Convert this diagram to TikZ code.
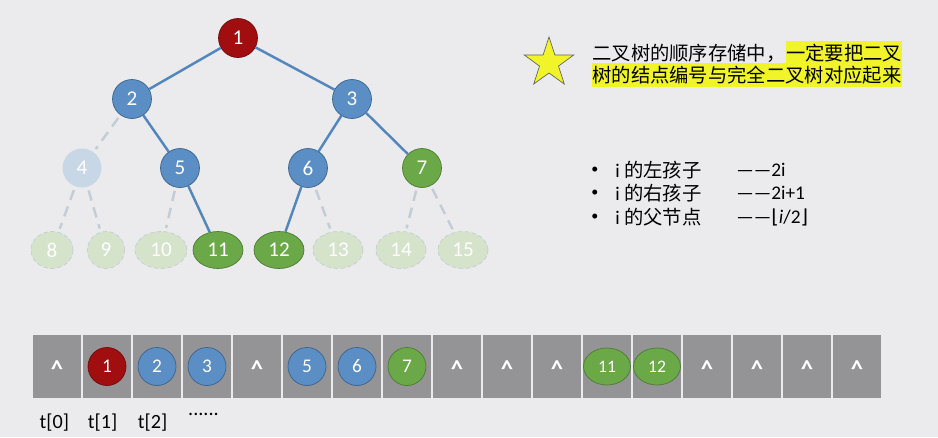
\documentclass[tikz,border=0pt]{standalone}
\usepackage{fontspec}
\setmainfont{Carlito}
\newfontfamily\cjk{Noto Sans CJK SC}
\newfontfamily\symbolfont{DejaVu Sans}
\usetikzlibrary{positioning,shapes.geometric}
\definecolor{bggray}{RGB}{235,235,237}
\definecolor{rootred}{RGB}{160,14,16}
\definecolor{treeblue}{RGB}{91,142,196}
\definecolor{blueedge}{RGB}{58,98,138}
\definecolor{linkblue}{RGB}{84,134,190}
\definecolor{leafgreen}{RGB}{106,168,72}
\definecolor{greenedge}{RGB}{78,122,52}
\definecolor{paleblue}{RGB}{200,215,230}
\definecolor{palegreen}{RGB}{213,227,203}
\definecolor{paleline}{RGB}{195,205,214}
\definecolor{cellgray}{RGB}{148,147,150}
\definecolor{marker}{RGB}{240,244,40}

\begin{document}
\begin{tikzpicture}[x=0.02cm, y=-0.02cm, every node/.style={font=\fontsize{12}{14}\selectfont},
  bluenode/.style={circle, draw=blueedge, fill=treeblue, text=white, minimum size=0.78cm, inner sep=0pt},
  rootnode/.style={bluenode, draw=rootred!70!black, fill=rootred},
  greennode/.style={bluenode, draw=greenedge, fill=leafgreen},
  greenleaf/.style={ellipse, draw=greenedge, fill=leafgreen, text=white, minimum width=1cm, minimum height=0.74cm, inner sep=0pt},
  paletop/.style={circle, fill=paleblue, text=white, minimum size=0.78cm, inner sep=0pt},
  paleleaf/.style={ellipse, draw=paleline, dash pattern=on 2.5pt off 1.5pt, fill=palegreen, text=white, minimum width=1cm, minimum height=0.74cm, inner sep=0pt},
  link/.style={draw=linkblue, line width=1.4pt},
  ghostlink/.style={draw=paleline, line width=1.4pt, dash pattern=on 6pt off 4pt, shorten <=2pt, shorten >=2pt},
  cellbox/.style={rectangle, fill=cellgray, minimum width=0.98cm, minimum height=1.26cm, inner sep=0pt},
  hat/.style={text=white, font=\fontsize{14}{14}\selectfont\bfseries, anchor=base, yshift=-6pt},
  idx/.style={font=\fontsize{11.5}{13}\selectfont, inner sep=0pt},
  rule/.style={anchor=west, inner sep=0pt, font=\fontsize{11}{13}\selectfont}]
\fill[bggray] (0,0) rectangle (938,437);
% ---- tree
\node[rootnode] (n1) at (238,38) {1};
\node[bluenode] (n2) at (132,99) {2};
\node[bluenode] (n3) at (352,99) {3};
\node[paletop] (n4) at (82,168) {4};
\node[bluenode] (n5) at (180,168) {5};
\node[bluenode] (n6) at (308,168) {6};
\node[greennode] (n7) at (422,168) {7};
\node[paleleaf, minimum width=0.84cm] (n8) at (52,250) {8};
\node[paleleaf, minimum width=0.74cm] (n9) at (106,250) {9};
\node[paleleaf, minimum width=1.04cm] (n10) at (161,250) {10};
\node[greenleaf] (n11) at (218,250) {11};
\node[greenleaf] (n12) at (279,250) {12};
\node[paleleaf] (n13) at (338,250) {13};
\node[paleleaf] (n14) at (401,250) {14};
\node[paleleaf] (n15) at (463,250) {15};
\draw[link] (n1) -- (n2);
\draw[link] (n1) -- (n3);
\draw[link] (n2) -- (n5);
\draw[link] (n3) -- (n6);
\draw[link] (n3) -- (n7);
\draw[link] (n5) -- (n11);
\draw[link] (n6) -- (n12);
\draw[ghostlink] (n2) -- (n4);
\draw[ghostlink] (n4) -- (n8);
\draw[ghostlink] (n4) -- (n9);
\draw[ghostlink] (n5) -- (n10);
\draw[ghostlink] (n6) -- (n13);
\draw[ghostlink] (n7) -- (n14);
\draw[ghostlink] (n7) -- (n15);
% ---- note with star
\node[star, star points=5, star point ratio=2.6, fill=marker, draw=gray!80!black, minimum size=1.04cm, inner sep=0pt] (star) at (549,63) {};
\node[anchor=west, inner sep=0pt, font=\fontsize{11}{13}\selectfont\cjk] (note1) at (592,53) {二叉树的顺序存储中，};
\node[right=0pt of note1, inner xsep=0pt, inner ysep=1.5pt, fill=marker, font=\fontsize{11}{13}\selectfont\cjk] (note1b) {一定要把二叉};
\node[anchor=west, inner xsep=0pt, inner ysep=1.5pt, fill=marker, font=\fontsize{11}{13}\selectfont\cjk] (note2) at (592,75) {树的结点编号与完全二叉树对应起来};
% ---- index rules
\node[rule, font=\fontsize{8}{10}\selectfont] (b1) at (591,170) {•};
\node[rule] (r1) at (615,170) {i \cjk 的左孩子};
\node[rule] (v1) at (736,170) {——2i};
\node[rule, font=\fontsize{8}{10}\selectfont] (b2) at (591,193) {•};
\node[rule] (r2) at (615,193) {i \cjk 的右孩子};
\node[rule] (v2) at (736,193) {——2i+1};
\node[rule, font=\fontsize{8}{10}\selectfont] (b3) at (591,217) {•};
\node[rule] (r3) at (615,217) {i \cjk 的父节点};
\node[rule] (v3) at (736,217) {——{\symbolfont ⌊}\textit{i}/2{\symbolfont ⌋}};
% ---- array t[0..16]
\foreach \i in {0,...,16}
  \node[cellbox] (c\i) at ({57+50*\i},366.5) {};
\foreach \i in {0,4,8,9,10,13,14,15,16}
  \node[hat] at (c\i) {\textasciicircum};
\node[rootnode, minimum size=0.76cm, font=\fontsize{11}{13}\selectfont] (a1) at (c1) {1};
\node[bluenode, minimum size=0.76cm, font=\fontsize{11}{13}\selectfont] (a2) at (c2) {2};
\node[bluenode, minimum size=0.76cm, font=\fontsize{11}{13}\selectfont] (a3) at (c3) {3};
\node[bluenode, minimum size=0.76cm, font=\fontsize{11}{13}\selectfont] (a5) at (c5) {5};
\node[bluenode, minimum size=0.76cm, font=\fontsize{11}{13}\selectfont] (a6) at (c6) {6};
\node[greennode, minimum size=0.76cm, font=\fontsize{11}{13}\selectfont] (a7) at (c7) {7};
\node[greenleaf, minimum width=0.94cm, font=\fontsize{10}{12}\selectfont] (a11) at (c11) {11};
\node[greenleaf, minimum width=0.94cm, font=\fontsize{10}{12}\selectfont] (a12) at (c12) {12};
\node[idx, below=0.3cm of c0, xshift=-1.5pt] (t0) {t[0]};
\node[idx, below=0.3cm of c1, xshift=-2.5pt] (t1) {t[1]};
\node[idx, below=0.3cm of c2, xshift=-2.5pt] (t2) {t[2]};
\node[idx, below=0.3cm of c3, xshift=-2pt] (dots) {......};
\end{tikzpicture}
\end{document}
